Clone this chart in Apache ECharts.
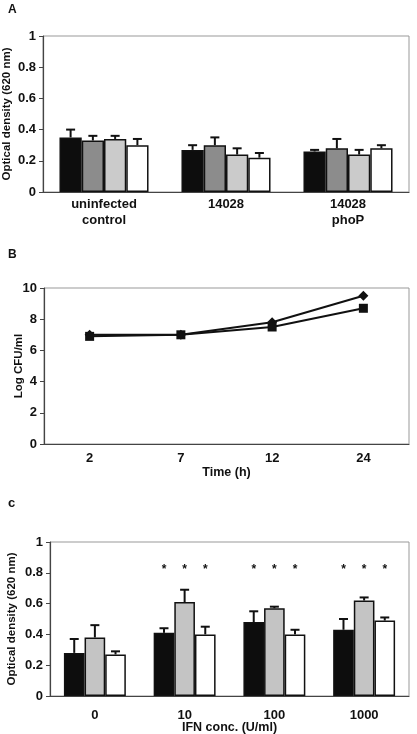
<!DOCTYPE html>
<html><head><meta charset="utf-8">
<script src="https://cdn.jsdelivr.net/npm/echarts@6/dist/echarts.min.js"></script>
<style>html,body{margin:0;padding:0;background:#fff}#c{width:417px;height:734px}</style>
</head><body><div id="c"></div>
<script>
// Panel A
const catsA = ['uninfected\ncontrol', '14028', '14028\nphoP'];
const a1 = [0.35, 0.27, 0.26], a1e = [0.40, 0.30, 0.27];
const a2 = [0.33, 0.30, 0.28], a2e = [0.36, 0.35, 0.34];
const a3 = [0.34, 0.24, 0.24], a3e = [0.36, 0.28, 0.27];
const a4 = [0.30, 0.22, 0.28], a4e = [0.34, 0.25, 0.30];
// Panel B
const catsB = ['2', '7', '12', '24'];
const bDiamond = [7.0, 7.0, 7.8, 9.5];
const bSquare = [6.9, 7.0, 7.5, 8.7];
// Panel C
const catsC = ['0', '10', '100', '1000'];
const c1 = [0.28, 0.41, 0.48, 0.43], c1e = [0.37, 0.44, 0.55, 0.50];
const c2 = [0.38, 0.61, 0.57, 0.62], c2e = [0.46, 0.69, 0.58, 0.64];
const c3 = [0.27, 0.40, 0.40, 0.49], c3e = [0.29, 0.45, 0.43, 0.51];
const cStars = [0, 1, 1, 1];
const starLevel = 0.82;

const FONT = '"Liberation Sans", Arial, sans-serif';
const lab = {fontFamily: FONT, fontWeight: 'bold', fontSize: 13, color: '#111'};

function barSeries(ax, data, color, gap) {
  return {type: 'bar', xAxisIndex: ax, yAxisIndex: ax, data: data, barGap: '0%', barCategoryGap: gap,
    itemStyle: {color: color, borderColor: '#111', borderWidth: 1.5}, silent: true, animation: false};
}
function errSeries(ax, vals, errs, i, n, gapFrac, stars) {
  return {type: 'custom', xAxisIndex: ax, yAxisIndex: ax, z: 5, animation: false, silent: true,
    data: vals.map((v, k) => [k, v, errs[k], stars ? stars[k] : 0]),
    renderItem: function (params, api) {
      const idx = api.value(0);
      const band = api.size([1, 0])[0];
      const w = band * (1 - gapFrac) / n;
      const cx = api.coord([idx, 0])[0] + (i - (n - 1) / 2) * w;
      const yTop = api.coord([idx, api.value(1)])[1];
      const yErr = api.coord([idx, api.value(2)])[1];
      const st = {stroke: '#111', lineWidth: 2};
      const ch = [
        {type: 'line', shape: {x1: cx, y1: yTop, x2: cx, y2: yErr}, style: st},
        {type: 'line', shape: {x1: cx - 4.5, y1: yErr, x2: cx + 4.5, y2: yErr}, style: st}
      ];
      if (api.value(3)) {
        const ys = api.coord([idx, starLevel])[1];
        ch.push({type: 'text', style: {text: '*', x: cx, y: ys, align: 'center', verticalAlign: 'middle',
          font: 'bold 12px ' + FONT, fill: '#111'}});
      }
      return {type: 'group', children: ch};
    }};
}

const yAxisCommon = {
  type: 'value', nameLocation: 'middle', nameRotate: 90, nameMoveOverlap: false,
  nameTextStyle: Object.assign({}, lab, {fontSize: 11.5}),
  axisLine: {show: true, lineStyle: {color: '#444', width: 1.2}},
  axisTick: {show: true, length: 4, lineStyle: {color: '#444'}},
  axisLabel: Object.assign({}, lab, {margin: 7}),
  splitLine: {show: false}
};
const xAxisCommon = {
  type: 'category', nameMoveOverlap: false,
  axisLine: {show: true, lineStyle: {color: '#444', width: 1.2}},
  axisTick: {show: false},
  nameLocation: 'middle', nameTextStyle: Object.assign({}, lab, {fontSize: 12.5})
};
const gridCommon = {show: true, borderColor: '#999', borderWidth: 1, containLabel: false, outerBoundsMode: 'none'};

const option = {
  backgroundColor: '#fff',
  animation: false,
  title: [
    {text: 'A', left: 3, top: -1, textStyle: Object.assign({}, lab, {fontSize: 12})},
    {text: 'B', left: 3, top: 244, textStyle: Object.assign({}, lab, {fontSize: 12})},
    {text: 'c', left: 3, top: 492, textStyle: Object.assign({}, lab, {fontSize: 13})}
  ],
  grid: [
    Object.assign({left: 43, top: 36, width: 366, height: 156}, gridCommon),
    Object.assign({left: 44, top: 288, width: 365, height: 156}, gridCommon),
    Object.assign({left: 50, top: 542, width: 359, height: 154}, gridCommon)
  ],
  xAxis: [
    Object.assign({}, xAxisCommon, {gridIndex: 0, data: catsA,
      axisLabel: Object.assign({}, lab, {margin: 4, lineHeight: 16})}),
    Object.assign({}, xAxisCommon, {gridIndex: 1, data: catsB, name: 'Time (h)', nameGap: 22,
      axisLabel: Object.assign({}, lab, {margin: 8})}),
    Object.assign({}, xAxisCommon, {gridIndex: 2, data: catsC, name: 'IFN conc. (U/ml)', nameGap: 25,
      axisLabel: Object.assign({}, lab, {margin: 13})})
  ],
  yAxis: [
    Object.assign({}, yAxisCommon, {gridIndex: 0, min: 0, max: 1, interval: 0.2, name: 'Optical density (620 nm)', nameGap: 30}),
    Object.assign({}, yAxisCommon, {gridIndex: 1, min: 0, max: 10, interval: 2, name: 'Log CFU/ml', nameGap: 19}),
    Object.assign({}, yAxisCommon, {gridIndex: 2, min: 0, max: 1, interval: 0.2, name: 'Optical density (620 nm)', nameGap: 32})
  ],
  series: [
    barSeries(0, a1, '#0d0d0d', '27%'),
    barSeries(0, a2, '#8c8c8c', '27%'),
    barSeries(0, a3, '#cbcbcb', '27%'),
    barSeries(0, a4, '#ffffff', '27%'),
    errSeries(0, a1, a1e, 0, 4, 0.27),
    errSeries(0, a2, a2e, 1, 4, 0.27),
    errSeries(0, a3, a3e, 2, 4, 0.27),
    errSeries(0, a4, a4e, 3, 4, 0.27),
    {type: 'line', xAxisIndex: 1, yAxisIndex: 1, data: bDiamond, symbol: 'diamond', symbolSize: 10,
      lineStyle: {color: '#111', width: 2}, itemStyle: {color: '#111'}},
    {type: 'line', xAxisIndex: 1, yAxisIndex: 1, data: bSquare, symbol: 'rect', symbolSize: 9,
      lineStyle: {color: '#111', width: 2}, itemStyle: {color: '#111'}},
    barSeries(2, c1, '#0d0d0d', '31%'),
    barSeries(2, c2, '#c4c4c4', '31%'),
    barSeries(2, c3, '#ffffff', '31%'),
    errSeries(2, c1, c1e, 0, 3, 0.31, cStars),
    errSeries(2, c2, c2e, 1, 3, 0.31, cStars),
    errSeries(2, c3, c3e, 2, 3, 0.31, cStars)
  ]
};
const chart = echarts.init(document.getElementById('c'), null, {renderer: 'canvas'});
chart.setOption(option);
</script></body></html>
